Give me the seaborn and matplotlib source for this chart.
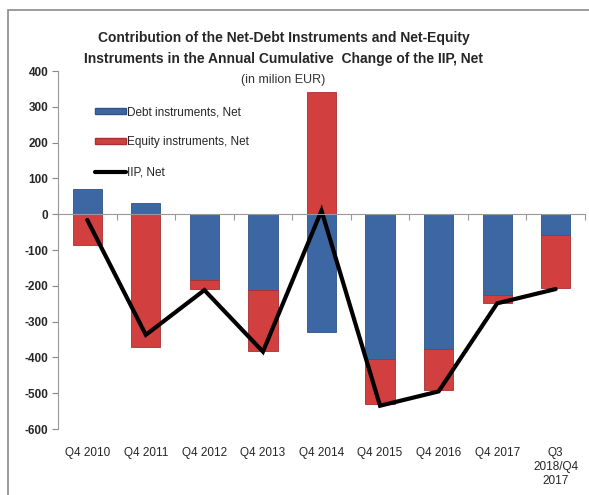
import numpy as np
import matplotlib
matplotlib.use("Agg")
import matplotlib.pyplot as plt
from matplotlib.patches import Patch, Rectangle
from matplotlib.lines import Line2D
import seaborn as sns

categories = ["Q4 2010", "Q4 2011", "Q4 2012", "Q4 2013", "Q4 2014",
              "Q4 2015", "Q4 2016", "Q4 2017", "Q3\n2018/Q4\n2017"]
debt = [71, 32, -183, -213, -330, -405, -377, -225, -58]
equity = [-85, -370, -26, -168, 340, -126, -114, -22, -149]
iip = [-16, -337, -212, -384, 10, -535, -495, -249, -209]
yticks = [400, 300, 200, 100, 0, -100, -200, -300, -400, -500, -600]

sns.set_style("white")
plt.rcParams["font.family"] = ["Liberation Sans", "DejaVu Sans"]

BLUE = "#3D67A3"
RED = "#D13F3F"

fig = plt.figure(figsize=(5.89, 4.95), dpi=100)
ax = fig.add_axes([58/589, (495-429)/495, (585-58)/589, (429-71)/495])

# stacking base for equity: on top of debt when same sign, else from zero
eq_bottom = [d if (d * e > 0) else 0 for d, e in zip(debt, equity)]

sns.barplot(x=categories, y=debt, color=BLUE, saturation=1, width=0.5,
            ax=ax, order=categories, edgecolor="#2F5288", linewidth=0.6)
sns.barplot(x=categories, y=equity, bottom=eq_bottom, color=RED, saturation=1,
            width=0.5, ax=ax, order=categories, edgecolor="#A83030", linewidth=0.6)
sns.lineplot(x=np.arange(len(categories)), y=iip, color="black", lw=3.0, ax=ax,
             solid_joinstyle="miter")

ax.set_xlim(-0.5, len(categories) - 0.5)
ax.set_ylim(-600, 400)
ax.set_yticks(yticks)
ax.set_yticklabels([str(v) for v in yticks], fontsize=8.5, fontweight="bold")
ax.tick_params(axis="y", direction="out", length=4, color="#888888", pad=3, left=True)

for s in ["top", "right"]:
    ax.spines[s].set_visible(False)
ax.spines["left"].set_color("#999999")
ax.spines["bottom"].set_position(("data", 0))
ax.spines["bottom"].set_color("#999999")
ax.set_xticks(np.arange(-0.5, len(categories), 1))
ax.set_xticklabels([])
ax.tick_params(axis="x", direction="out", length=4, color="#999999", bottom=True)

sec = ax.secondary_xaxis(0)
sec.set_xticks(np.arange(len(categories)))
sec.set_xticklabels(categories, fontsize=8.5)
sec.tick_params(length=0, pad=13)
sec.spines["bottom"].set_visible(False)
ax.set_xlabel("")
ax.set_ylabel("")

handles = [Patch(facecolor=BLUE, edgecolor="#2F5288"),
           Patch(facecolor=RED, edgecolor="#A83030"),
           Line2D([0], [0], color="black", lw=3.0)]
labels = ["Debt instruments, Net", "Equity instruments, Net", "IIP, Net"]
ax.legend(handles, labels, loc="upper left", bbox_to_anchor=(0.062, 0.915),
          frameon=False, fontsize=8.5, handlelength=2.6, handleheight=0.45,
          handletextpad=0.1, labelspacing=1.55, borderaxespad=0)

fig.text(0.482, 0.902, "Contribution of the Net-Debt Instruments and Net-Equity\n"
         "Instruments in the Annual Cumulative  Change of the IIP, Net",
         ha="center", va="center", fontsize=10, fontweight="bold",
         linespacing=1.65)
fig.text(0.481, 0.838, "(in milion EUR)", ha="center", va="center", fontsize=9,
         color="#333333")

fig.patches.append(Rectangle((8/589, -0.02), 1.0, 1 - 10/495 + 0.02,
                             transform=fig.transFigure, fill=False,
                             edgecolor="#8A8A8A", lw=1.2))

fig.savefig("out.png", dpi=100)
